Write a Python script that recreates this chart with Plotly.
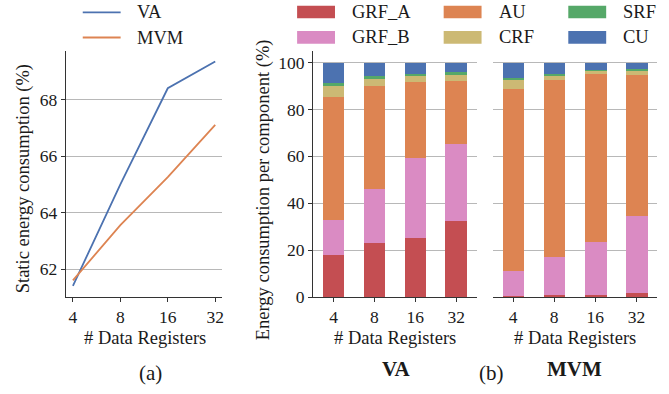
import plotly.graph_objects as go

W, H = 669, 394
FONT = "Liberation Serif"
TXT = "#1a1a1a"

# ---------------- data ----------------
regs = ["4", "8", "16", "32"]
va_static = [61.4, 65.0, 68.4, 69.35]
mvm_static = [61.6, 63.55, 65.25, 67.1]

components = ["GRF_A", "GRF_B", "AU", "CRF", "SRF", "CU"]
colors = {"GRF_A": "#C44E52", "GRF_B": "#DA8BC3", "AU": "#DD8452",
          "CRF": "#CCB974", "SRF": "#55A868", "CU": "#4C72B0"}

va_grf_a = [18.0, 23.2, 25.3, 32.4]
va_grf_b = [15.2, 22.9, 34.0, 33.2]
va_au = [52.3, 43.9, 32.4, 26.5]
va_crf = [5.0, 3.4, 2.9, 2.5]
va_srf = [0.8, 0.8, 0.8, 1.3]
va_cu = [8.7, 5.8, 4.6, 4.1]

mvm_grf_a = [0.8, 1.2, 1.2, 2.1]
mvm_grf_b = [10.4, 16.2, 22.5, 32.8]
mvm_au = [77.6, 75.1, 71.3, 59.7]
mvm_crf = [3.7, 2.1, 1.7, 1.7]
mvm_srf = [0.9, 0.8, 0.4, 1.2]
mvm_cu = [6.6, 4.6, 2.9, 2.5]

va_parts = dict(zip(components, [va_grf_a, va_grf_b, va_au, va_crf, va_srf, va_cu]))
mvm_parts = dict(zip(components, [mvm_grf_a, mvm_grf_b, mvm_au, mvm_crf, mvm_srf, mvm_cu]))


def px(x):
    return x / W


def py(y):
    return 1 - y / H


fig = go.Figure()

# left line chart
fig.add_trace(go.Scatter(x=regs, y=va_static, mode="lines", name="VA",
                         line=dict(color="#4C72B0", width=1.8), showlegend=False,
                         xaxis="x", yaxis="y"))
fig.add_trace(go.Scatter(x=regs, y=mvm_static, mode="lines", name="MVM",
                         line=dict(color="#DD8452", width=1.8), showlegend=False,
                         xaxis="x", yaxis="y"))

# stacked bars
for comp in components:
    fig.add_trace(go.Bar(x=regs, y=va_parts[comp], name=comp, marker_color=colors[comp],
                         marker_line_width=0, width=0.52, showlegend=False,
                         xaxis="x2", yaxis="y2"))
for comp in components:
    fig.add_trace(go.Bar(x=regs, y=mvm_parts[comp], name=comp, marker_color=colors[comp],
                         marker_line_width=0, width=0.52, showlegend=False,
                         xaxis="x3", yaxis="y3"))

TICK = 17.5
TITLE = 18.5
LEG = 18.5
axis_font = dict(family=FONT, size=TICK, color=TXT)
ydom = [py(305), py(52)]
common_x = dict(type="category", showline=True, linecolor="#333333", linewidth=1.2,
                ticks="outside", ticklen=4, tickcolor="#333333", showgrid=False,
                tickfont=axis_font, range=[-0.5, 3.5])

fig.update_layout(
    width=W, height=H, margin=dict(l=0, r=0, t=0, b=0),
    paper_bgcolor="white", plot_bgcolor="white",
    barmode="stack", bargap=0,
    font=dict(family=FONT, size=16, color=TXT),
    xaxis=dict(common_x, domain=[px(66), px(223)], range=[-0.15, 3.15], anchor="y"),
    yaxis=dict(domain=ydom, range=[61.0, 69.73], tickvals=[62, 64, 66, 68],
               showgrid=True, gridcolor="#b8b8b8", gridwidth=1, zeroline=False,
               showline=True, linecolor="#333333", linewidth=1.2, ticks="outside",
               ticklen=4, tickcolor="#333333", tickfont=axis_font, anchor="x"),
    xaxis2=dict(common_x, domain=[px(314), px(478)], anchor="y2"),
    yaxis2=dict(domain=ydom, range=[0, 105], tickvals=[0, 20, 40, 60, 80, 100],
                showgrid=True, gridcolor="#b8b8b8", gridwidth=1, zeroline=False,
                showline=True, linecolor="#333333", linewidth=1.2, ticks="outside",
                ticklen=4, tickcolor="#333333", tickfont=axis_font, anchor="x2"),
    xaxis3=dict(common_x, domain=[px(494), px(659)], anchor="y3"),
    yaxis3=dict(domain=ydom, range=[0, 105], tickvals=[0, 20, 40, 60, 80, 100],
                showgrid=True, gridcolor="#b8b8b8", gridwidth=1, zeroline=False,
                showline=False, showticklabels=False, ticks="", anchor="x3"),
)

ann = []


def text(x, y, s, size=TITLE, angle=0, xanchor="center", bold=False):
    ann.append(dict(x=px(x), y=py(y), xref="paper", yref="paper", text=("<b>%s</b>" % s) if bold else s,
                    showarrow=False, textangle=angle, xanchor=xanchor, yanchor="middle",
                    font=dict(family=FONT, size=size, color=TXT)))


text(23, 183, "Static energy consumption (%)", angle=-90)
text(145, 347, "# Data Registers")
text(151, 383, "(a)", size=21)
text(264, 195, "Energy consumption per component (%)", angle=-90)
text(396, 347, "# Data Registers")
text(577, 347, "# Data Registers")
text(397, 379, "VA", size=21, bold=True)
text(576, 379, "MVM", size=21, bold=True)
text(493, 383, "(b)", size=21)

shapes = []
# line legend
for name, col, y in [("VA", "#4C72B0", 12.7), ("MVM", "#DD8452", 38.5)]:
    shapes.append(dict(type="line", xref="paper", yref="paper", x0=px(83), x1=px(121),
                       y0=py(y), y1=py(y), line=dict(color=col, width=1.8)))
    text(135, y, name, size=LEG, xanchor="left")

# bar legend
cols_x = [(298, 351), (445, 498), (570, 623)]
rows_y = [12.3, 38.3]
for i, comp in enumerate(components):
    c, r = i // 2, i % 2
    x0, tx = cols_x[c]
    y = rows_y[r]
    shapes.append(dict(type="rect", xref="paper", yref="paper", x0=px(x0), x1=px(x0 + 38),
                       y0=py(y + 6.5), y1=py(y - 6.5), fillcolor=colors[comp], line=dict(width=0)))
    text(tx, y, comp, size=LEG, xanchor="left")

fig.update_layout(annotations=ann, shapes=shapes)
fig.write_html("out.html")
